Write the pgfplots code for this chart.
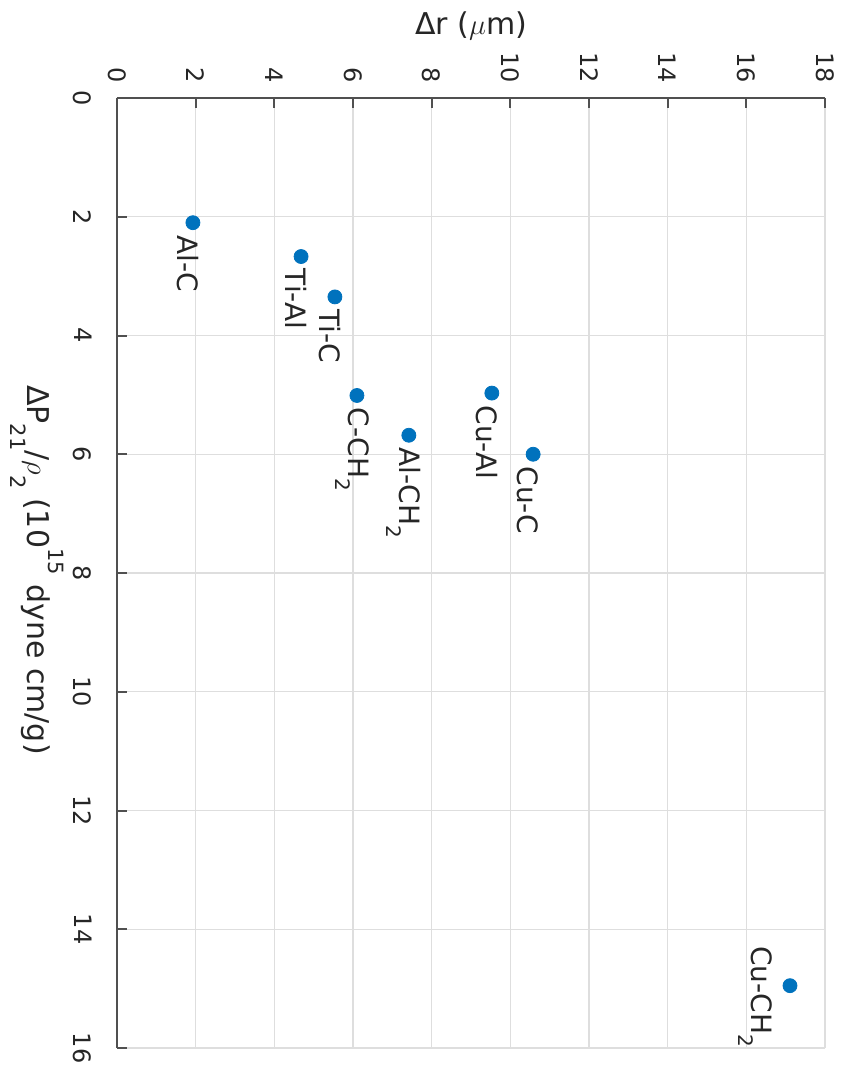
\documentclass[border=0pt]{standalone}
\usepackage{fontspec}
\setmainfont{DejaVu Sans}
\usepackage{pgfplots}
\pgfplotsset{compat=1.18}
\usetikzlibrary{calc}
\definecolor{mblue}{rgb}{0,0.447,0.741}
\definecolor{gridc}{RGB}{222,222,222}
\definecolor{axc}{RGB}{80,80,80}
\definecolor{txt}{RGB}{38,38,38}
\newcommand{\lsub}[1]{\raisebox{-6.5pt}{\fontsize{10}{10}\selectfont #1}}
\pgfplotstableread{
dr   dp    name
1.93 2.10  Al-C
4.68 2.67  Ti-Al
5.54 3.35  Ti-C
6.10 5.01  C-CH2
7.42 5.68  Al-CH2
9.53 4.97  Cu-Al
10.58 6.00 Cu-C
17.11 14.95 Cu-CH2
}\datatable
\begin{document}
\begin{tikzpicture}
\begin{axis}[
  scale only axis, width=354pt, height=475pt,
  xmin=0, xmax=18, ymin=0, ymax=16, y dir=reverse,
  xtick={0,2,...,18}, ytick={0,2,...,16},
  axis x line*=top, axis y line*=left,
  axis line style={color=axc, line width=1.1pt},
  tick align=inside, major tick length=5pt,
  tick style={color=axc, line width=1pt},
  grid=major, major grid style={color=gridc, line width=0.7pt},
  /pgf/number format/assume math mode=true,
  ticklabel style={font=\fontsize{12}{12}\selectfont, inner sep=0pt, text=txt},
  xticklabel style={rotate=-90, anchor=east},
  yticklabel style={rotate=-90, anchor=north},
  xticklabel shift=7.5pt, yticklabel shift=12.5pt,
  clip=false,
]
\addplot[only marks, mark=*, mark size=3.5pt, color=mblue, fill=mblue] table[x=dr, y=dp] {\datatable};
\tikzset{lbl/.style={rotate=-90, anchor=west, inner sep=0pt, text=txt, font=\fontsize{14}{14}\selectfont}}
\node[lbl] at ([xshift=-2.5pt,yshift=-6pt]axis cs:1.93,2.10) {Al-C};
\node[lbl] at ([xshift=-2.5pt,yshift=-6pt]axis cs:4.68,2.67) {Ti-Al};
\node[lbl] at ([xshift=-2.5pt,yshift=-6pt]axis cs:5.54,3.35) {Ti-C};
\node[lbl] at ([xshift=-2.5pt,yshift=-6pt]axis cs:6.10,5.01) {C-CH\lsub{2}};
\node[lbl] at ([xshift=-2.5pt,yshift=-6pt]axis cs:7.42,5.68) {Al-CH\lsub{2}};
\node[lbl] at ([xshift=-2.5pt,yshift=-6pt]axis cs:9.53,4.97) {Cu-Al};
\node[lbl] at ([xshift=-2.5pt,yshift=-6pt]axis cs:10.58,6.00) {Cu-C};
\node[lbl] at ([xshift=-17.25pt,yshift=20pt]axis cs:17.11,14.95) {Cu-CH\lsub{2}};
\node[anchor=south, inner sep=0pt, text=txt, font=\fontsize{15}{15}\selectfont] at ([yshift=29pt]axis cs:9,0) {Δr ($\mu$m)};
\node[rotate=-90, anchor=base, inner sep=0pt, text=txt, font=\fontsize{15}{15}\selectfont] at ([xshift=-44.5pt]axis cs:0,7.95)
  {ΔP\raisebox{-8.5pt}{\fontsize{10.5}{10.5}\selectfont 21}/$\rho$\raisebox{-8.5pt}{\fontsize{10.5}{10.5}\selectfont 2} (10\raisebox{10.5pt}{\fontsize{10.5}{10.5}\selectfont 15} dyne cm/g)};
\coordinate (TL) at (axis cs:0,0);
\coordinate (BR) at (axis cs:18,16);
\end{axis}
\pgfresetboundingbox
\path ($(TL)+(-58.5pt,49pt)$) rectangle ($(BR)+(9.5pt,-12pt)$);
\end{tikzpicture}
\end{document}
